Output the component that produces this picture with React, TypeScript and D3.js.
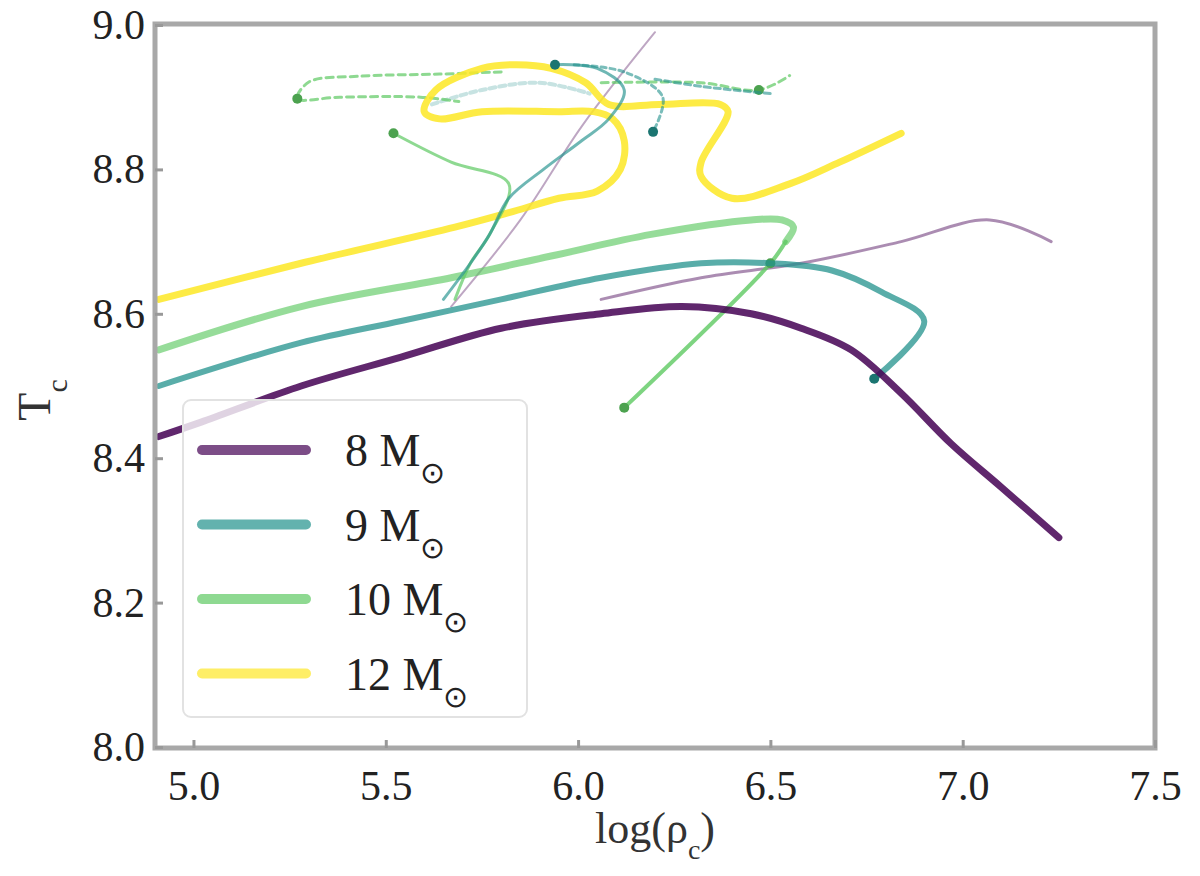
import { useRef, useEffect } from 'react';
import * as d3 from 'd3';

type Pt = [number, number];

// legend / colour order
const masses = ['8', '9', '10', '12'];
const colors = ['#440154', '#21918c', '#5ec962', '#fde725'];

const xTicks = [5.0, 5.5, 6.0, 6.5, 7.0, 7.5];
const yTicks = [8.0, 8.2, 8.4, 8.6, 8.8, 9.0];

// [log rho_c, T_c]
const track8: Pt[] = [
  [4.91, 8.43], [5.02, 8.45], [5.28, 8.5], [5.54, 8.54], [5.8, 8.58], [6.06, 8.6],
  [6.27, 8.61], [6.45, 8.6], [6.58, 8.58], [6.71, 8.55], [6.84, 8.49], [6.97, 8.42],
  [7.1, 8.36], [7.25, 8.29],
];
const track8b: Pt[] = [
  [6.06, 8.62], [6.32, 8.65], [6.58, 8.67], [6.84, 8.7], [7.07, 8.73], [7.23, 8.7],
];
const track8c: Pt[] = [[5.67, 8.61], [5.85, 8.73], [6.01, 8.86], [6.2, 8.99]];

const track9: Pt[] = [
  [4.91, 8.5], [5.28, 8.56], [5.54, 8.59], [5.8, 8.62], [6.06, 8.65], [6.32, 8.67],
  [6.5, 8.67], [6.66, 8.66], [6.79, 8.63], [6.9, 8.59], [6.77, 8.51],
];
const track9b: Pt[] = [
  [5.65, 8.62], [5.72, 8.67], [5.77, 8.71], [5.82, 8.76], [5.91, 8.8], [6.01, 8.84],
  [6.08, 8.87], [6.12, 8.91], [6.05, 8.94], [5.94, 8.945],
];
const track9c: Pt[] = [[5.99, 8.945], [6.12, 8.935], [6.22, 8.9], [6.195, 8.852]];
const track9d: Pt[] = [[6.2, 8.925], [6.32, 8.915], [6.5, 8.905]];
const track9e: Pt[] = [[5.62, 8.89], [5.75, 8.91], [5.9, 8.92], [6.03, 8.905]];

const track10: Pt[] = [
  [4.91, 8.55], [5.28, 8.61], [5.67, 8.65], [5.93, 8.68], [6.19, 8.71], [6.45, 8.73],
  [6.53, 8.73], [6.56, 8.72], [6.54, 8.7],
];
const track10b: Pt[] = [[6.54, 8.7], [6.5, 8.67], [6.12, 8.47]];
const track10c: Pt[] = [
  [5.52, 8.85], [5.67, 8.81], [5.82, 8.78], [5.77, 8.71], [5.72, 8.67], [5.68, 8.62],
];
const track10d: Pt[] = [
  [5.8, 8.935], [5.64, 8.932], [5.43, 8.929], [5.3, 8.921], [5.27, 8.898],
  [5.38, 8.9], [5.59, 8.9], [5.69, 8.894],
];
const track10e: Pt[] = [[6.06, 8.92], [6.32, 8.92], [6.47, 8.91], [6.55, 8.93]];

const track12: Pt[] = [
  [4.91, 8.62], [5.28, 8.67], [5.68, 8.72], [5.82, 8.74], [5.95, 8.76], [6.05, 8.77],
  [6.11, 8.8], [6.12, 8.84], [6.09, 8.87], [6.04, 8.88], [5.95, 8.88], [5.75, 8.88],
  [5.64, 8.87], [5.6, 8.88], [5.63, 8.91], [5.75, 8.94], [5.84, 8.945], [5.93, 8.94],
  [6.02, 8.92], [6.08, 8.89], [6.21, 8.89], [6.37, 8.89], [6.39, 8.88], [6.32, 8.81],
  [6.32, 8.79], [6.4, 8.76], [6.55, 8.78], [6.68, 8.81], [6.84, 8.85],
];

export default function App() {
  const svgRef = useRef(null);

  useEffect(() => {
    const svg = d3.select(svgRef.current);
    svg.selectAll('*').remove();

    const left = 155, right = 1155, top = 24, bottom = 748;
    const font = 'Liberation Serif, Times New Roman, serif';

    const x = d3.scaleLinear().domain([4.9, 7.5]).range([left, right]);
    const y = d3.scaleLinear().domain([8.0, 9.0]).range([bottom - 1, top + 1]);

    const line = d3.line<Pt>()
      .x(d => x(d[0]))
      .y(d => y(d[1]))
      .curve(d3.curveCatmullRom.alpha(0.5));

    // which series each path belongs to, and how it is drawn
    const paths = [
      { data: track8c, c: 0, w: 2, op: 0.35, dash: null, dots: [] },
      { data: track9e, c: 1, w: 4, op: 0.25, dash: '6,4', dots: [] },
      { data: track10d, c: 2, w: 3, op: 0.7, dash: '7,5', dots: [4] },
      { data: track10e, c: 2, w: 3, op: 0.7, dash: '7,5', dots: [2] },
      { data: track9d, c: 1, w: 3, op: 0.6, dash: '6,4', dots: [] },
      { data: track8b, c: 0, w: 3, op: 0.45, dash: null, dots: [] },
      { data: track12, c: 3, w: 7, op: 0.85, dash: null, dots: [] },
      { data: track10, c: 2, w: 7, op: 0.65, dash: null, dots: [] },
      { data: track10b, c: 2, w: 4, op: 0.8, dash: null, dots: [1, 2] },
      { data: track10c, c: 2, w: 3, op: 0.7, dash: null, dots: [0] },
      { data: track9, c: 1, w: 6, op: 0.75, dash: null, dots: [10] },
      { data: track9b, c: 1, w: 3, op: 0.65, dash: null, dots: [9] },
      { data: track9c, c: 1, w: 3, op: 0.6, dash: '5,4', dots: [3] },
      { data: track8, c: 0, w: 7, op: 0.85, dash: null, dots: [] },
    ];

    const g = svg.append('g');
    paths.forEach(p => {
      g.append('path')
        .attr('d', line(p.data))
        .attr('fill', 'none')
        .attr('stroke', colors[p.c])
        .attr('stroke-width', p.w)
        .attr('stroke-opacity', p.op)
        .attr('stroke-linecap', 'round')
        .attr('stroke-linejoin', 'round')
        .attr('stroke-dasharray', p.dash);
      p.dots.forEach(i => {
        g.append('circle')
          .attr('cx', x(p.data[i][0]))
          .attr('cy', y(p.data[i][1]))
          .attr('r', 5)
          .attr('fill', d3.color(colors[p.c]).darker(0.6).formatHex());
      });
    });

    // frame
    svg.append('rect')
      .attr('x', left).attr('y', top)
      .attr('width', right - left).attr('height', bottom - top)
      .attr('fill', 'none').attr('stroke', '#a8a8a8').attr('stroke-width', 5);

    const xAxis = svg.append('g')
      .attr('transform', `translate(0,${bottom})`)
      .call(d3.axisBottom(x).tickValues(xTicks).tickSize(-8).tickPadding(22)
        .tickFormat(d3.format('.1f')));
    const yAxis = svg.append('g')
      .attr('transform', `translate(${left},0)`)
      .call(d3.axisLeft(y).tickValues(yTicks).tickSize(-8).tickPadding(10)
        .tickFormat(d3.format('.1f')));
    [xAxis, yAxis].forEach(a => {
      a.select('.domain').remove();
      a.selectAll('line').attr('stroke', '#999').attr('stroke-width', 3);
      a.selectAll('text')
        .attr('font-family', font)
        .attr('font-size', 42)
        .attr('fill', '#222');
    });

    // axis labels
    const xl = svg.append('text')
      .attr('x', (left + right) / 2).attr('y', 843)
      .attr('text-anchor', 'middle')
      .attr('font-family', font).attr('font-size', 44).attr('fill', '#333');
    xl.append('tspan').text('log(ρ');
    xl.append('tspan').attr('baseline-shift', 'sub').attr('font-size', 28).text('c');
    xl.append('tspan').text(')');

    const yl = svg.append('text')
      .attr('transform', 'translate(50,400) rotate(-90)')
      .attr('text-anchor', 'middle')
      .attr('font-family', font).attr('font-size', 46).attr('fill', '#333');
    yl.append('tspan').text('T');
    yl.append('tspan').attr('baseline-shift', 'sub').attr('font-size', 30).text('c');

    // legend
    const lg = svg.append('g');
    lg.append('rect')
      .attr('x', 183).attr('y', 400).attr('width', 344).attr('height', 317).attr('rx', 8)
      .attr('fill', 'white').attr('fill-opacity', 0.8)
      .attr('stroke', '#e2e2e2').attr('stroke-width', 2);
    masses.forEach((m, i) => {
      const ly = 450 + i * 74.5;
      lg.append('line')
        .attr('x1', 202).attr('x2', 306).attr('y1', ly).attr('y2', ly)
        .attr('stroke', colors[i]).attr('stroke-opacity', 0.7)
        .attr('stroke-width', 10).attr('stroke-linecap', 'round');
      const t = lg.append('text')
        .attr('x', 345).attr('y', ly + 16)
        .attr('font-family', font).attr('font-size', 46).attr('fill', '#222');
      t.append('tspan').text(`${m} M`);
      t.append('tspan').attr('baseline-shift', 'sub').attr('font-size', 30).text('⊙');
    });
  }, []);

  return (
    <svg ref={svgRef} width={1200} height={876}
      style={{ position: 'absolute', left: 0, top: 0, background: 'white' }} />
  );
}
